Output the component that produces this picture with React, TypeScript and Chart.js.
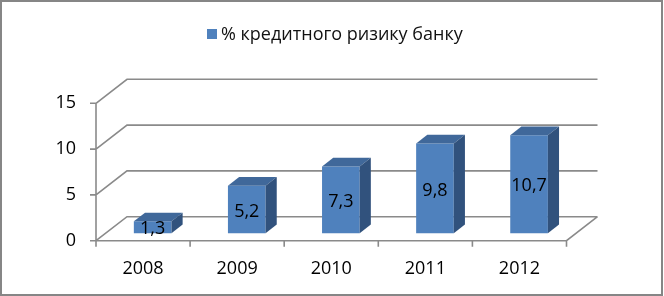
import React, { useEffect, useRef } from 'react';
import { Chart, registerables } from 'chart.js';

Chart.register(...registerables);

const categories: string[] = ['2008', '2009', '2010', '2011', '2012'];
const riskValues: number[] = [1.3, 5.2, 7.3, 9.8, 10.7];
const yTicks: number[] = [0, 5, 10, 15];
const seriesName = '% кредитного ризику банку';

const FONT = '"Open Sans", sans-serif';
const FRONT = '#4F81BD';
const TOP = '#40689A';
const SIDE = '#31527D';
const GRID = '#8a8a8a';
const DX = 31;
const DY = -24;
const BAR_SHIFT = 0.31;
const BAR_DEPTH = 0.36;

const fmt = (v: number) => String(v).replace('.', ',');

const threeD = {
  id: 'threeD',
  beforeDraw(chart: any) {
    const { ctx, width, height } = chart;
    ctx.save();
    ctx.fillStyle = '#ffffff';
    ctx.fillRect(0, 0, width, height);
    ctx.strokeStyle = '#868686';
    ctx.lineWidth = 2;
    ctx.strokeRect(1, 1, width - 3, height - 2);
    // legend
    ctx.fillStyle = FRONT;
    ctx.fillRect(207, 29, 10, 10);
    ctx.fillStyle = '#111';
    ctx.font = `18px ${FONT}`;
    ctx.textAlign = 'left';
    ctx.textBaseline = 'middle';
    ctx.fillText(seriesName, 221, 35);
    ctx.restore();
  },
  beforeDatasetsDraw(chart: any) {
    const { ctx, chartArea, scales } = chart;
    const { left, right } = chartArea;
    const y = scales.y;
    const y0 = y.getPixelForValue(0);
    const yMax = y.getPixelForValue(yTicks[yTicks.length - 1]);
    ctx.save();
    ctx.strokeStyle = GRID;
    ctx.lineWidth = 1.6;
    ctx.beginPath();
    yTicks.forEach((v) => {
      const py = y.getPixelForValue(v);
      ctx.moveTo(left, py);
      ctx.lineTo(left + DX, py + DY);
      ctx.lineTo(right + DX, py + DY);
      ctx.moveTo(left - 6, py);
      ctx.lineTo(left, py);
    });
    ctx.moveTo(left, y0);
    ctx.lineTo(right, y0);
    ctx.lineTo(right + DX, y0 + DY);
    ctx.moveTo(left, yMax);
    ctx.lineTo(left, y0);
    const n = categories.length;
    for (let i = 0; i <= n; i++) {
      const px = left + (i * (right - left)) / n;
      ctx.moveTo(px, y0);
      ctx.lineTo(px, y0 + 6);
    }
    ctx.stroke();
    ctx.restore();
    ctx.save();
    ctx.translate(DX * BAR_SHIFT, DY * BAR_SHIFT);
  },
  afterDatasetsDraw(chart: any) {
    const ctx = chart.ctx;
    const meta = chart.getDatasetMeta(0);
    const dx = DX * BAR_DEPTH;
    const dy = DY * BAR_DEPTH;
    meta.data.forEach((bar: any, i: number) => {
      const { x, y, base, width } = bar.getProps(['x', 'y', 'base', 'width'], true);
      const l = x - width / 2;
      const r = x + width / 2;
      ctx.fillStyle = TOP;
      ctx.beginPath();
      ctx.moveTo(l, y);
      ctx.lineTo(l + dx, y + dy);
      ctx.lineTo(r + dx, y + dy);
      ctx.lineTo(r, y);
      ctx.closePath();
      ctx.fill();
      ctx.fillStyle = SIDE;
      ctx.beginPath();
      ctx.moveTo(r, y);
      ctx.lineTo(r + dx, y + dy);
      ctx.lineTo(r + dx, base + dy);
      ctx.lineTo(r, base);
      ctx.closePath();
      ctx.fill();
      ctx.fillStyle = '#000';
      ctx.font = `18px ${FONT}`;
      ctx.textAlign = 'center';
      ctx.textBaseline = 'middle';
      ctx.fillText(fmt(riskValues[i]), x, (y + base) / 2 + 2);
    });
    ctx.restore();
  },
};

export default function App() {
  const ref = useRef<HTMLCanvasElement | null>(null);
  useEffect(() => {
    document.body.style.margin = '0';
    const canvas = ref.current;
    if (!canvas) return;
    const chart = new Chart(canvas, {
      type: 'bar',
      data: {
        labels: categories,
        datasets: [
          {
            label: seriesName,
            data: riskValues,
            backgroundColor: FRONT,
            borderWidth: 0,
            barPercentage: 0.4,
            categoryPercentage: 1.0,
            clip: false as any,
          },
        ],
      },
      options: {
        responsive: false,
        animation: false,
        devicePixelRatio: 1,
        layout: { padding: { top: 103.3, right: 97.5, bottom: 0, left: 0 } },
        plugins: { legend: { display: false }, tooltip: { enabled: false } },
        scales: {
          x: {
            offset: true,
            grid: { display: false, drawTicks: false },
            border: { display: false },
            ticks: { color: '#000', font: { family: FONT, size: 18 }, padding: 17, maxRotation: 0 },
            afterFit: (s: any) => {
              s.height = 296 - 240.7;
            },
          },
          y: {
            min: 0,
            max: 15,
            grid: { display: false, drawTicks: false },
            border: { display: false },
            ticks: { stepSize: 5, color: '#000', font: { family: FONT, size: 18 }, padding: 20 },
            afterFit: (s: any) => {
              s.width = 96;
            },
          },
        },
      },
      plugins: [threeD],
    });
    return () => chart.destroy();
  }, []);
  return <canvas ref={ref} width={664} height={296} style={{ display: 'block' }} />;
}
